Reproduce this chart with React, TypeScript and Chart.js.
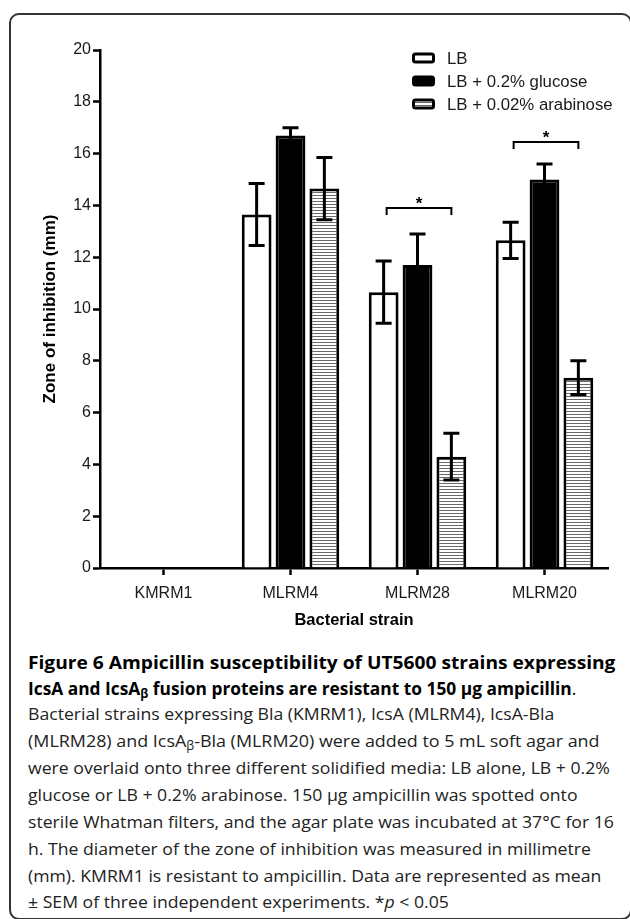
import React, { useEffect, useLayoutEffect, useRef } from "react";
import { Chart, registerables } from "chart.js";

Chart.register(...registerables);

// ---------- data ----------
const categories = ["KMRM1", "MLRM4", "MLRM28", "MLRM20"];
const seriesLabels = ["LB", "LB + 0.2% glucose", "LB + 0.02% arabinose"];
const lbMeans: (number | null)[] = [null, 13.65, 10.65, 12.65];
const lbSem: (number | null)[] = [null, 1.2, 1.2, 0.7];
const glucoseMeans: (number | null)[] = [null, 16.7, 11.7, 15.0];
const glucoseSem: (number | null)[] = [null, 0.3, 1.2, 0.6];
const arabinoseMeans: (number | null)[] = [null, 14.65, 4.3, 7.35];
const arabinoseSem: (number | null)[] = [null, 1.2, 0.9, 0.65];
const yTickValues = [0, 2, 4, 6, 8, 10, 12, 14, 16, 18, 20];
const sigCategories = ["MLRM28", "MLRM20"];
const sigLevels = [13.9, 16.45];
const sigMark = "*";

const AX_FONT = "'Liberation Sans', Arial, sans-serif";
const CAP_FONT = "'Open Sans', 'Noto Sans', sans-serif";

// caption layout (right edge of each line in the reference)
const CAP_LEFT = 28;
const lineEnds = [616, 576, 512, 600, 617, 578, 610, 603, 601, 447];

export default function App() {
  const ref = useRef<HTMLCanvasElement>(null);
  const lineRefs = useRef<(HTMLDivElement | null)[]>([]);

  useLayoutEffect(() => {
    const els = lineRefs.current;
    const k = els.map((el, i) => (el && el.offsetWidth > 0 ? (lineEnds[i] - CAP_LEFT) / el.offsetWidth : 1));
    // plain body lines share one horizontal factor (median)
    const plain = [2, 4, 5, 6, 7, 8, 9].map((i) => k[i]).sort((a, b) => a - b);
    const kb = plain[Math.floor(plain.length / 2)];
    els.forEach((el, i) => {
      if (!el) return;
      const f = i <= 1 || i === 3 ? k[i] : kb;
      el.style.transform = `scaleX(${f})`;
    });
  }, []);

  useEffect(() => {
    const canvas = ref.current!;
    const pc = document.createElement("canvas");
    pc.width = 4;
    pc.height = 3;
    const pctx = pc.getContext("2d")!;
    pctx.fillStyle = "#ffffff";
    pctx.fillRect(0, 0, 4, 3);
    pctx.fillStyle = "#6a6a6a";
    pctx.fillRect(0, 0, 4, 1);
    const hatch = canvas.getContext("2d")!.createPattern(pc, "repeat")!;
    const fills: any[] = ["#ffffff", "#000000", hatch];
    const means = [lbMeans, glucoseMeans, arabinoseMeans];
    const sems = [lbSem, glucoseSem, arabinoseSem];

    const overlay = {
      id: "overlay",
      afterDatasetsDraw(chart: any) {
        const ctx = chart.ctx;
        const y = chart.scales.y;
        ctx.save();
        ctx.strokeStyle = "#000";
        ctx.lineWidth = 3;
        chart.data.datasets.forEach((_ds: any, i: number) => {
          const meta = chart.getDatasetMeta(i);
          meta.data.forEach((bar: any, j: number) => {
            const m = means[i][j];
            const s = sems[i][j];
            if (m == null || s == null) return;
            const x = bar.x;
            const yt = y.getPixelForValue(m + s);
            const yb = y.getPixelForValue(m - s);
            ctx.beginPath();
            ctx.moveTo(x, yb);
            ctx.lineTo(x, yt);
            ctx.moveTo(x - 8, yt);
            ctx.lineTo(x + 8, yt);
            ctx.moveTo(x - 8, yb);
            ctx.lineTo(x + 8, yb);
            ctx.stroke();
          });
        });
        // significance brackets
        const m0 = chart.getDatasetMeta(0);
        const m2 = chart.getDatasetMeta(2);
        ctx.lineWidth = 2;
        sigCategories.forEach((c, k) => {
          const idx = categories.indexOf(c);
          const x1 = m0.data[idx].x + 3;
          const x2 = m2.data[idx].x;
          const yp = y.getPixelForValue(sigLevels[k]);
          ctx.beginPath();
          ctx.moveTo(x1, yp + 7);
          ctx.lineTo(x1, yp);
          ctx.lineTo(x2, yp);
          ctx.lineTo(x2, yp + 7);
          ctx.stroke();
          ctx.fillStyle = "#000";
          ctx.font = `bold 17px ${AX_FONT}`;
          ctx.textAlign = "center";
          ctx.textBaseline = "alphabetic";
          ctx.fillText(sigMark, (x1 + x2) / 2, yp + 1);
        });
        ctx.restore();
      },
      afterDraw(chart: any) {
        const ctx = chart.ctx;
        ctx.save();
        const rows = [58, 81, 104];
        chart.data.datasets.forEach((ds: any, i: number) => {
          const yc = rows[i];
          ctx.fillStyle = fills[i];
          ctx.fillRect(413, yc - 4.5, 21, 9);
          ctx.strokeStyle = "#000";
          ctx.lineWidth = 3;
          ctx.beginPath();
          (ctx as any).roundRect(413.5, yc - 4, 20, 8, 2);
          ctx.stroke();
          ctx.fillStyle = "#1a1a1a";
          ctx.font = `16.8px ${AX_FONT}`;
          ctx.textAlign = "left";
          ctx.textBaseline = "middle";
          ctx.fillText(ds.label, 447, yc + 1);
        });
        ctx.restore();
      },
    };

    const chart = new Chart(canvas, {
      type: "bar",
      data: {
        labels: categories,
        datasets: [lbMeans, glucoseMeans, arabinoseMeans].map((d, i) => ({
          label: seriesLabels[i],
          data: d as any,
          backgroundColor: fills[i],
          borderColor: "#000",
          borderWidth: 3,
          categoryPercentage: 0.8,
          barPercentage: 0.88,
        })),
      },
      options: {
        responsive: false,
        animation: false,
        devicePixelRatio: 1,
        layout: { padding: { left: 0, right: 22, top: 50, bottom: 0 } },
        plugins: { legend: { display: false }, tooltip: { enabled: false } },
        scales: {
          x: {
            z: 1,
            grid: {
              display: true,
              drawOnChartArea: false,
              offset: false,
              tickLength: 7,
              tickWidth: 2.5,
              tickColor: "#000",
              color: "#000",
            },
            border: { display: true, color: "#000", width: 2.5 },
            ticks: { font: { family: AX_FONT, size: 16 }, color: "#1a1a1a", padding: 9 },
            title: {
              display: true,
              text: "Bacterial strain",
              font: { family: AX_FONT, size: 16.5, weight: "bold" },
              color: "#000",
              padding: { top: 0, bottom: 10 },
            },
            afterFit: (s: any) => {
              s.height = 72;
            },
          },
          y: {
            z: 1,
            min: 0,
            max: 20,
            afterBuildTicks: (s: any) => {
              s.ticks = yTickValues.map((v) => ({ value: v }));
            },
            grid: {
              display: true,
              drawOnChartArea: false,
              tickLength: 7,
              tickWidth: 2.5,
              tickColor: "#000",
              color: "#000",
            },
            border: { display: true, color: "#000", width: 2.5 },
            ticks: { font: { family: AX_FONT, size: 16 }, color: "#1a1a1a", padding: 2 },
            title: {
              display: true,
              text: "Zone of inhibition (mm)",
              font: { family: AX_FONT, size: 17, weight: "bold" },
              color: "#000",
              padding: { top: 40, bottom: 0 },
            },
            afterFit: (s: any) => {
              s.width = 100;
            },
          },
        },
      } as any,
      plugins: [overlay],
    });
    return () => chart.destroy();
  }, []);

  const bodyBase = 721;
  const step = 26.85;
  const bodyStyle = (i: number): React.CSSProperties => ({
    position: "absolute",
    left: CAP_LEFT,
    top: bodyBase + i * step - 16.6,
    whiteSpace: "nowrap",
    fontFamily: CAP_FONT,
    fontSize: 17,
    lineHeight: "20px",
    color: "#222",
    transformOrigin: "0 0",
  });
  const headStyle = (base: number): React.CSSProperties => ({
    position: "absolute",
    left: CAP_LEFT,
    top: base - 17,
    whiteSpace: "nowrap",
    fontFamily: CAP_FONT,
    fontSize: 18,
    lineHeight: "20px",
    color: "#000",
    transformOrigin: "0 0",
  });
  const subStyle: React.CSSProperties = { fontSize: "0.7em", verticalAlign: "-0.25em", lineHeight: 0 };
  const setRef = (i: number) => (el: HTMLDivElement | null) => {
    lineRefs.current[i] = el;
  };

  return (
    <div
      style={{
        position: "fixed",
        left: 0,
        top: 0,
        width: 630,
        height: 919,
        overflow: "hidden",
        background: "#fff",
      }}
    >
      <div
        style={{
          position: "absolute",
          left: 9,
          top: 13,
          width: 623,
          height: 907,
          border: "2px solid #333",
          borderRadius: 10,
          boxSizing: "border-box",
        }}
      />
      <canvas
        ref={ref}
        width={630}
        height={640}
        style={{ position: "absolute", left: 0, top: 0, width: 630, height: 640 }}
      />
      <div ref={setRef(0)} style={{ ...headStyle(669), fontWeight: 700 }}>
        Figure 6 Ampicillin susceptibility of UT5600 strains expressing
      </div>
      <div ref={setRef(1)} style={headStyle(695)}>
        <b>
          IcsA and IcsA<span style={subStyle}>β</span> fusion proteins are resistant to 150 µg ampicillin
        </b>
        .
      </div>
      <div ref={setRef(2)} style={bodyStyle(0)}>
        Bacterial strains expressing Bla (KMRM1), IcsA (MLRM4), IcsA-Bla
      </div>
      <div ref={setRef(3)} style={bodyStyle(1)}>
        (MLRM28) and IcsA<span style={subStyle}>β</span>-Bla (MLRM20) were added to 5 mL soft agar and
      </div>
      <div ref={setRef(4)} style={bodyStyle(2)}>
        were overlaid onto three different solidified media: LB alone, LB + 0.2%
      </div>
      <div ref={setRef(5)} style={bodyStyle(3)}>
        glucose or LB + 0.2% arabinose. 150 µg ampicillin was spotted onto
      </div>
      <div ref={setRef(6)} style={bodyStyle(4)}>
        sterile Whatman filters, and the agar plate was incubated at 37°C for 16
      </div>
      <div ref={setRef(7)} style={bodyStyle(5)}>
        h. The diameter of the zone of inhibition was measured in millimetre
      </div>
      <div ref={setRef(8)} style={bodyStyle(6)}>
        (mm). KMRM1 is resistant to ampicillin. Data are represented as mean
      </div>
      <div ref={setRef(9)} style={bodyStyle(7)}>
        ± SEM of three independent experiments. *<i>p</i> &lt; 0.05
      </div>
    </div>
  );
}
